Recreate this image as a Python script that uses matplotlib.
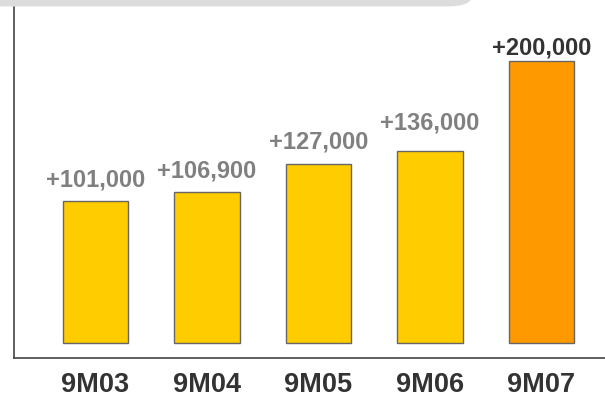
import matplotlib.pyplot as plt
from matplotlib.patches import FancyBboxPatch

periods = ["9M03", "9M04", "9M05", "9M06", "9M07"]
increase = [101000, 106900, 127000, 136000, 200000]
bar_colors = ["#ffcc00", "#ffcc00", "#ffcc00", "#ffcc00", "#ff9900"]
label_colors = ["#808080", "#808080", "#808080", "#808080", "#333333"]
# gap (px) between each bar top and its value label baseline
label_gap = [14, 15, 15, 22, 7]

plt.rcParams["font.family"] = "Liberation Sans"
plt.rcParams["font.weight"] = "bold"

fig = plt.figure(figsize=(6.05, 3.99), dpi=100)

# grey header strip along the top edge
header = FancyBboxPatch(
    (-0.05, 0.984), 0.83, 0.1,
    boxstyle="round,pad=0,rounding_size=0.04",
    transform=fig.transFigure, facecolor="#dcdcdc", edgecolor="none",
    mutation_aspect=0.66,
)
fig.patches.append(header)

ax = fig.add_axes([14 / 605, 1 - 358 / 399, 1 - 14 / 605, (358 - 7) / 399])
x = range(len(periods))
ax.bar(x, increase, width=0.59, color=bar_colors, edgecolor="#666666", linewidth=1)

for xi, v, c, g in zip(x, increase, label_colors, label_gap):
    ax.annotate("+{:,}".format(v), (xi, v), xytext=(0, g), textcoords="offset pixels",
                ha="center", va="baseline", fontsize=17, fontweight="bold",
                family="Liberation Sans", color=c)

ax.set_xlim(-0.73, 4.57)
ax.set_ylim(-10600, 238300)
ax.set_xticks(list(x))
ax.set_xticklabels(periods, fontsize=19.5, fontweight="bold",
                   family="Liberation Sans", color="#333333")
ax.tick_params(axis="x", length=0, pad=10)
ax.set_yticks([])
for s in ["top", "right"]:
    ax.spines[s].set_visible(False)
for s in ["left", "bottom"]:
    ax.spines[s].set_color("#444444")
    ax.spines[s].set_linewidth(1.2)

fig.savefig("out.png", dpi=100)
